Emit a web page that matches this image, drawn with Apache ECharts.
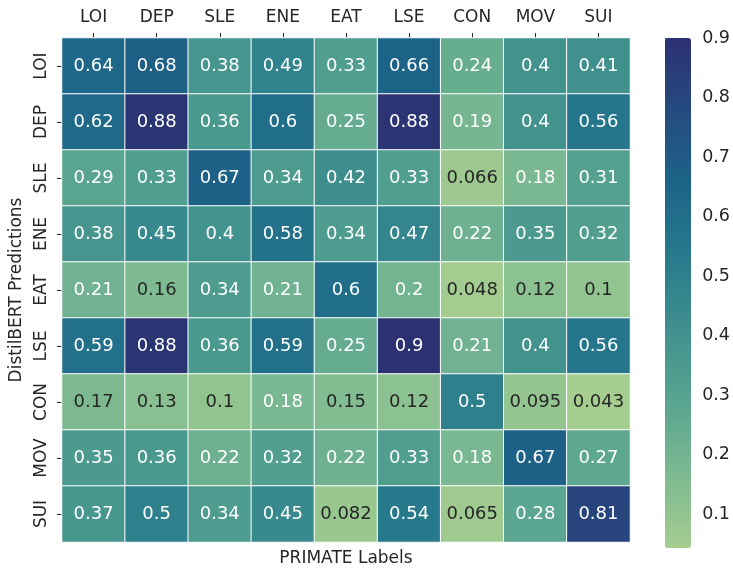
<!DOCTYPE html>
<html>
<head>
<meta charset="utf-8">
<script src="https://cdn.jsdelivr.net/npm/echarts@6/dist/echarts.min.js"></script>
<style>
  html, body { margin: 0; padding: 0; background: #fff; }
  #chart { width: 733px; height: 572px; }
</style>
</head>
<body>
<div id="chart"></div>
<script>
// column categories (PRIMATE Labels) and row categories (DistilBERT Predictions)
const labels = ['LOI', 'DEP', 'SLE', 'ENE', 'EAT', 'LSE', 'CON', 'MOV', 'SUI'];
const predictions = ['LOI', 'DEP', 'SLE', 'ENE', 'EAT', 'LSE', 'CON', 'MOV', 'SUI'];

// one row per prediction
const rowLOI = [0.64, 0.68, 0.38, 0.49, 0.33, 0.66, 0.24, 0.4, 0.41];
const rowDEP = [0.62, 0.88, 0.36, 0.6, 0.25, 0.88, 0.19, 0.4, 0.56];
const rowSLE = [0.29, 0.33, 0.67, 0.34, 0.42, 0.33, 0.066, 0.18, 0.31];
const rowENE = [0.38, 0.45, 0.4, 0.58, 0.34, 0.47, 0.22, 0.35, 0.32];
const rowEAT = [0.21, 0.16, 0.34, 0.21, 0.6, 0.2, 0.048, 0.12, 0.1];
const rowLSE = [0.59, 0.88, 0.36, 0.59, 0.25, 0.9, 0.21, 0.4, 0.56];
const rowCON = [0.17, 0.13, 0.1, 0.18, 0.15, 0.12, 0.5, 0.095, 0.043];
const rowMOV = [0.35, 0.36, 0.22, 0.32, 0.22, 0.33, 0.18, 0.67, 0.27];
const rowSUI = [0.37, 0.5, 0.34, 0.45, 0.082, 0.54, 0.065, 0.28, 0.81];

const colorbarTicks = [0.1, 0.2, 0.3, 0.4, 0.5, 0.6, 0.7, 0.8, 0.9];

// seaborn "crest"
const crest = ['#a5cd90', '#7dba91', '#59a590', '#40908e', '#287a8c', '#1c6488', '#254b7f', '#2c3172'];

const rows = [rowLOI, rowDEP, rowSLE, rowENE, rowEAT, rowLSE, rowCON, rowMOV, rowSUI];
const all = rows.flat();
const vmin = Math.min(...all);
const vmax = Math.max(...all);

const cells = [];
rows.forEach((row, y) => {
  row.forEach((v, x) => {
    cells.push({
      value: [x, y, v],
      label: { color: v < 0.175 ? '#262626' : '#ffffff' }
    });
  });
});

const ink = '#262626';
const font = 'DejaVu Sans';

const chart = echarts.init(document.getElementById('chart'), null, { renderer: 'canvas' });

chart.setOption({
  animation: false,
  textStyle: { fontFamily: font },
  grid: [
    { left: 61, right: 103, top: 38, bottom: 25 },
    { left: 665, width: 26, top: 38, height: 510 }
  ],
  xAxis: [
    {
      type: 'category', data: labels, position: 'top', gridIndex: 0,
      axisLine: { show: false },
      axisTick: { show: true, alignWithLabel: true, length: 5, lineStyle: { color: ink } },
      axisLabel: { color: ink, fontSize: 17, margin: 12, fontFamily: font },
      splitLine: { show: false }
    },
    {
      type: 'category', data: labels, position: 'bottom', gridIndex: 0,
      axisLine: { show: false }, axisTick: { show: false }, axisLabel: { show: false },
      name: 'PRIMATE Labels', nameLocation: 'middle', nameGap: 8,
      nameTextStyle: { color: ink, fontSize: 17, fontFamily: font }
    },
    { type: 'value', gridIndex: 1, show: false }
  ],
  yAxis: [
    {
      type: 'category', data: predictions, inverse: true, gridIndex: 0,
      axisLine: { show: false },
      axisTick: { show: true, alignWithLabel: true, length: 5, lineStyle: { color: ink } },
      axisLabel: { color: ink, fontSize: 17, rotate: 90, margin: 12, fontFamily: font },
      name: 'DistilBERT Predictions', nameLocation: 'middle', nameRotate: 90, nameGap: 37,
      nameTextStyle: { color: ink, fontSize: 17, fontFamily: font }
    },
    {
      type: 'value', gridIndex: 1, position: 'right', min: vmin, max: vmax,
      axisLine: { show: false },
      splitLine: { show: false },
      axisTick: { show: true, length: 5, customValues: colorbarTicks, lineStyle: { color: ink } },
      axisLabel: {
        color: ink, fontSize: 17.5, margin: 12, fontFamily: font,
        customValues: colorbarTicks,
        formatter: v => String(Number(v.toFixed(1)))
      }
    }
  ],
  visualMap: {
    type: 'continuous',
    min: vmin, max: vmax,
    calculable: false,
    orient: 'vertical',
    left: 665, top: 38,
    itemWidth: 26, itemHeight: 510,
    text: ['', ''],
    showLabel: false,
    seriesIndex: 0,
    padding: 0,
    inRange: { color: crest }
  },
  series: [{
    type: 'heatmap',
    xAxisIndex: 0, yAxisIndex: 0,
    data: cells,
    itemStyle: { borderColor: '#ffffff', borderWidth: 1 },
    label: {
      show: true, fontSize: 18, fontFamily: font,
      formatter: p => String(Number(p.value[2].toPrecision(2)))
    },
    emphasis: { disabled: true }
  }]
});
</script>
</body>
</html>
